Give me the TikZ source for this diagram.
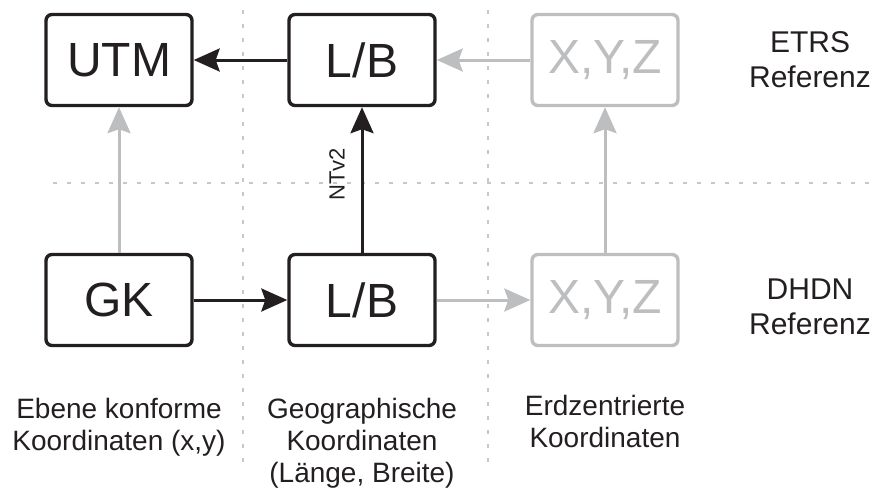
\documentclass[tikz,border=0pt]{standalone}
\usepackage{fontspec}
\setmainfont{Liberation Sans}
\usepackage{xcolor}
\usetikzlibrary{arrows.meta}

\definecolor{ink}{HTML}{231F20}
\definecolor{grau}{HTML}{BCBEC0}
\definecolor{linie}{HTML}{C8C8C8}

\tikzset{
	box/.style={draw=ink, text=ink, line width=3.4pt, rounded corners=6pt, minimum width=146pt, minimum height=91pt, inner sep=0pt, font=\fontsize{48}{48}\selectfont},
	graubox/.style={box, draw=grau, text=grau},
	pfeil/.style={draw=ink, line width=3pt, -{Stealth[length=26pt, width=23pt, inset=4pt]}},
	graupfeil/.style={pfeil, draw=grau},
	raster/.style={draw=linie, line width=1.5pt, dash pattern=on 4pt off 10pt},
	ref/.style={text=ink, align=center, font=\fontsize{30}{35}\selectfont},
	unter/.style={text=ink, align=center, font=\fontsize{28}{32}\selectfont}
}

\begin{document}
\begin{tikzpicture}[x=1pt, y=-1pt]
	\useasboundingbox (0, 0) rectangle (885, 491);
	
	\draw[raster] (53, 183) -- (870, 183);
	\draw[raster] (243, 10) -- (243, 472);
	\draw[raster] (488, 10) -- (488, 472);
	
	\node[box] (utm) at (119, 60) {UTM};
	\node[box] (lbo) at (362, 60) {L/B};
	\node[graubox] (xyzo) at (605, 60) {X,Y,Z};
	
	\node[box] (gk) at (119, 300) {GK};
	\node[box] (lbu) at (362, 300) {L/B};
	\node[graubox] (xyzu) at (605, 300) {X,Y,Z};
	
	\node[ref] (etrs) at (810, 60) {ETRS\\Referenz};
	\node[ref] (dhdn) at (810, 307) {DHDN\\Referenz};
	
	\node[unter] (ebene) at (119, 427) {Ebene konforme\\Koordinaten (x,y)};
	\node[unter] (geo) at (362, 443) {Geographische\\Koordinaten\\(Länge, Breite)};
	\node[unter] (erd) at (605, 421) {Erdzentrierte\\Koordinaten};
	
	\draw[pfeil] (lbo) -- (utm);
	\draw[graupfeil] (xyzo) -- (lbo);
	\draw[graupfeil] (gk) -- (utm);
	\draw[pfeil] (lbu) -- node[pos=0.54, above, rotate=90, text=ink, font=\fontsize{22}{22}\selectfont, inner sep=16pt] {NTv2} (lbo);
	\draw[pfeil] (gk) -- (lbu);
	\draw[graupfeil] (lbu) -- (xyzu);
	\draw[graupfeil] (xyzu) -- (xyzo);
\end{tikzpicture}
\end{document}
